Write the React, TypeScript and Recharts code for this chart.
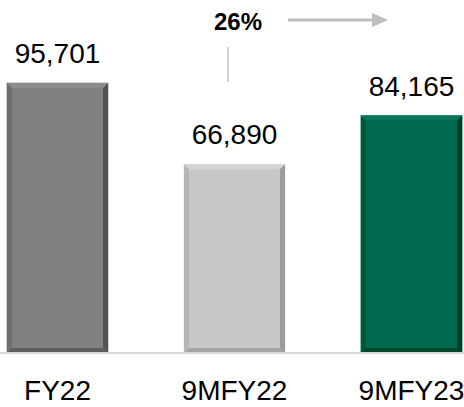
import { BarChart, Bar, XAxis, YAxis, Cell, LabelList } from 'recharts';

const periods = ['FY22', '9MFY22', '9MFY23'];
const values = [95701, 66890, 84165];
const barColors = ['#808080', '#c8c8c8', '#006a4e'];
const growthLabel = '26%';

const data = periods.map((p, i) => ({ period: p, value: values[i], color: barColors[i] }));

const FONT = '"Liberation Sans", Arial, sans-serif';

// shift a hex colour lighter (+) or darker (-)
const shade = (hex: string, amt: number) => {
  const n = parseInt(hex.slice(1), 16);
  const f = (c: number) => Math.max(0, Math.min(255, Math.round(c + amt)));
  const r = f((n >> 16) & 255), g = f((n >> 8) & 255), b = f(n & 255);
  return `rgb(${r},${g},${b})`;
};

// bevelled bar like the office chart
const BevelBar = (props: any) => {
  const { x, y, width, height, payload } = props;
  if (!height || height <= 0) return null;
  const c = payload.color;
  const s = 5;
  const x2 = x + width;
  const y2 = y + height;
  return (
    <g>
      <rect x={x} y={y} width={width} height={height} fill={c} stroke={shade(c, 30)} strokeWidth={1} />
      <polygon points={`${x},${y} ${x2},${y} ${x2 - s},${y + s} ${x + s},${y + s}`} fill={shade(c, 12)} />
      <polygon points={`${x},${y} ${x + s},${y + s} ${x + s},${y2 - s} ${x},${y2}`} fill={shade(c, -18)} />
      <polygon points={`${x2},${y} ${x2},${y2} ${x2 - s},${y2 - s} ${x2 - s},${y + s}`} fill={shade(c, -45)} />
      <polygon points={`${x},${y2} ${x2},${y2} ${x2 - s},${y2 - s} ${x + s},${y2 - s}`} fill={shade(c, -35)} />
      <rect x={x + s} y={y + s} width={width - 2 * s} height={height - 2 * s} fill={c} />
    </g>
  );
};

const CatTick = (props: any) => {
  const { x, y, payload } = props;
  return (
    <text x={x} y={y + 47} textAnchor="middle" fontFamily={FONT} fontSize={28} fill="#000">
      {payload.value}
    </text>
  );
};

export default function App() {
  return (
    <div style={{ position: 'absolute', left: 0, top: 0, width: 464, height: 407, overflow: 'hidden', background: '#fff' }}>
      <BarChart
        width={531}
        height={407}
        data={data}
        margin={{ top: 71, right: 0, bottom: 0, left: 0 }}
        style={{ marginLeft: -31 }}
      >
        <XAxis
          dataKey="period"
          height={54}
          tickLine={false}
          tickSize={0}
          tickMargin={0}
          axisLine={{ stroke: '#d9d9d9', strokeWidth: 2 }}
          tick={<CatTick />}
          interval={0}
        />
        <YAxis hide domain={[0, 100000]} />
        <Bar dataKey="value" barSize={101} shape={<BevelBar />} isAnimationActive={false}>
          {data.map((d) => (
            <Cell key={d.period} fill={d.color} />
          ))}
          <LabelList
            dataKey="value"
            position="top"
            offset={20}
            formatter={(v: any) => Number(v).toLocaleString('en-US')}
            style={{ fontFamily: FONT, fontSize: 28, fill: '#000' }}
          />
        </Bar>
      </BarChart>
      <svg width={464} height={407} style={{ position: 'absolute', left: 0, top: 0, pointerEvents: 'none' }}>
        <text x={238} y={30} textAnchor="middle" fontFamily={FONT} fontWeight="bold" fontSize={24} fill="#000">
          {growthLabel}
        </text>
        <line x1={288} y1={20} x2={374} y2={20} stroke="#bfbfbf" strokeWidth={3} />
        <polygon points="372,13 388,20 372,27" fill="#bfbfbf" />
        <line x1={228} y1={47} x2={228} y2={82} stroke="#d0d0d0" strokeWidth={2} />
      </svg>
    </div>
  );
}
